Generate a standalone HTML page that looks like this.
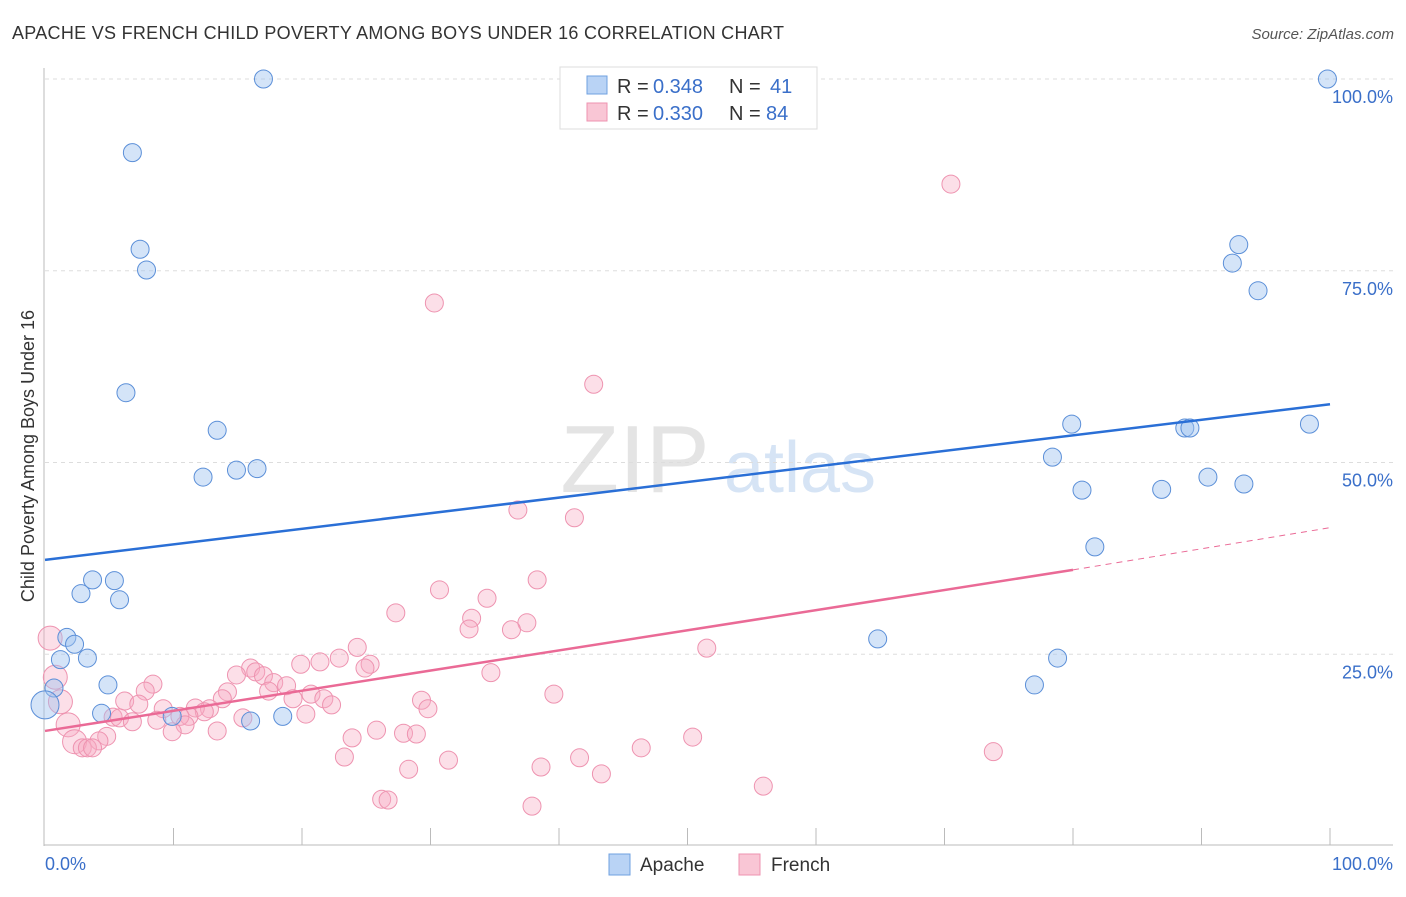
<!DOCTYPE html>
<html><head><meta charset="utf-8"><style>
body{margin:0;background:#fff;font-family:"Liberation Sans",sans-serif;}
svg text{font-family:"Liberation Sans",sans-serif;}
</style></head><body>
<svg id="c" width="1406" height="892">
<text x="12" y="39" font-size="18" fill="#333" textLength="772">APACHE VS FRENCH CHILD POVERTY AMONG BOYS UNDER 16 CORRELATION CHART</text>
<text x="1394" y="39" font-size="15" fill="#555" font-style="italic" text-anchor="end">Source: ZipAtlas.com</text>
<text x="635" y="492" font-size="96" fill="#e4e4e4" font-family="Liberation Serif" text-anchor="middle">ZIP</text>
<text x="800" y="492" font-size="72" fill="#d6e4f5" text-anchor="middle">atlas</text>
<text transform="translate(34,456) rotate(-90)" font-size="18" fill="#333" text-anchor="middle">Child Poverty Among Boys Under 16</text>
<g id="grid"></g><g id="pts"></g><g id="lines"></g>
<g>
<rect x="560" y="67" width="257" height="62" fill="#fff" stroke="#ddd"/>
<rect x="587" y="76" width="20" height="18" fill="#b9d3f5" stroke="#6fa0e0"/>
<rect x="587" y="103" width="20" height="18" fill="#f9c6d5" stroke="#ee93b0"/>
<text x="617" y="93" font-size="20" fill="#333">R =</text>
<text x="653" y="93" font-size="20" fill="#3a6fc9">0.348</text>
<text x="729" y="93" font-size="20" fill="#333">N =</text>
<text x="770" y="93" font-size="20" fill="#3a6fc9">41</text>
<text x="617" y="120" font-size="20" fill="#333">R =</text>
<text x="653" y="120" font-size="20" fill="#3a6fc9">0.330</text>
<text x="729" y="120" font-size="20" fill="#333">N =</text>
<text x="766" y="120" font-size="20" fill="#3a6fc9">84</text>
</g>
<g>
<rect x="609" y="854" width="21" height="21" fill="#b9d3f5" stroke="#6fa0e0"/>
<text x="640" y="871" font-size="19" fill="#333">Apache</text>
<rect x="739" y="854" width="21" height="21" fill="#f9c6d5" stroke="#ee93b0"/>
<text x="771" y="871" font-size="19" fill="#333">French</text>
</g>
</svg>
<script>
const yTicks=[100,75,50,25];
const yTickLabels=["100.0%","75.0%","50.0%","25.0%"];
const xTickLabels=["0.0%","100.0%"];
const apacheX=[17.0,6.8,7.4,7.9,6.3,13.4,12.3,14.9,16.5,3.7,5.4,2.8,5.8,1.7,2.3,1.2,3.3,4.9,0.7,0,4.4,9.9,16.0,18.5,64.8,99.8,92.9,92.4,94.4,79.9,78.4,80.7,81.7,86.9,88.7,89.1,90.5,93.3,98.4,78.8,77.0];
const apacheY=[100,90.4,77.8,75.1,59.1,54.2,48.1,49.0,49.2,34.7,34.6,32.9,32.1,27.2,26.3,24.3,24.5,21.0,20.6,18.4,17.3,16.9,16.3,16.9,27.0,100,78.4,76.0,72.4,55.0,50.7,46.4,39.0,46.5,54.5,54.5,48.1,47.2,55.0,24.5,21.0];
const apacheBig=[19];
const frenchX=[70.5,30.3,42.7,36.8,41.2,38.3,30.7,34.4,27.3,33.2,33.0,37.5,36.3,51.5,24.3,22.9,25.3,24.9,21.4,19.9,34.7,16.0,16.4,14.9,17.0,17.8,18.8,17.4,8.4,7.8,14.2,13.8,20.7,21.7,19.3,22.3,39.6,29.3,29.8,6.2,7.3,0.8,0.4,1.2,9.2,12.8,11.7,12.4,11.2,10.5,8.7,5.3,5.8,6.8,15.4,20.3,10.9,9.9,13.4,1.8,4.8,4.2,2.3,2.9,3.3,3.7,25.8,23.9,27.9,28.9,23.3,31.4,28.3,38.6,41.6,43.3,46.4,50.4,73.8,55.9,26.2,26.7,37.9];
const frenchY=[86.3,70.8,60.2,43.8,42.8,34.7,33.4,32.3,30.4,29.7,28.3,29.1,28.2,25.8,25.9,24.5,23.7,23.2,24.0,23.7,22.6,23.2,22.7,22.3,22.2,21.3,20.9,20.2,21.1,20.2,20.1,19.2,19.8,19.2,19.2,18.4,19.8,19.0,17.9,18.9,18.5,22.0,27.1,18.8,17.9,17.9,18.0,17.5,16.9,16.9,16.4,16.8,16.7,16.2,16.7,17.2,15.8,14.9,15.0,15.8,14.3,13.7,13.6,12.8,12.8,12.8,15.1,14.1,14.7,14.6,11.6,11.2,10.0,10.3,11.5,9.4,12.8,14.2,12.3,7.8,6.1,6.0,5.2];
const frenchBig=[41,42,43,59,62];
const apacheTrend=[37.3,57.6];
const frenchTrend=[15.0,36.0,41.5];
const NS="http://www.w3.org/2000/svg";
const X=v=>45+v*12.85, Y=v=>846-v*7.67;
function mk(t,a,p){const e=document.createElementNS(NS,t);for(const k in a)e.setAttribute(k,a[k]);p.appendChild(e);return e;}
const grid=document.getElementById('grid');
yTicks.forEach((t,i)=>{
 const l=mk('line',{x1:45,x2:1393,y1:Y(t),y2:Y(t),stroke:'#ddd','stroke-dasharray':'4,4'},grid);
 
 
 const tx=mk('text',{x:1393,y:Y(t)+24,'font-size':18,fill:'#3a6fc9','text-anchor':'end'},grid);
 tx.textContent=yTickLabels[i];
 
 
});
const ax=mk('line',{x1:44,x2:44,y1:68,y2:846,stroke:'#bbb'},grid);


const bx=mk('line',{x1:44,x2:1393,y1:845,y2:845,stroke:'#bbb'},grid);


for(let i=1;i<=10;i++){const t=mk('line',{x1:X(i*10),x2:X(i*10),y1:828,y2:845,stroke:'#bbb'},grid);
 
 }
[[0,'start',45],[1,'end',1393]].forEach(([i,a,x])=>{const t=mk('text',{x:x,y:870,'font-size':18,fill:'#3a6fc9','text-anchor':a},grid);t.textContent=xTickLabels[i];
 
 });
const pts=document.getElementById('pts');
frenchX.forEach((v,i)=>{const c=mk('circle',{cx:X(v),cy:Y(frenchY[i]),r:frenchBig.includes(i)?12:9,fill:'rgba(246,170,195,0.38)',stroke:'#ee93b0','stroke-width':1},pts);
 
 });
apacheX.forEach((v,i)=>{const c=mk('circle',{cx:X(v),cy:Y(apacheY[i]),r:apacheBig.includes(i)?14:9,fill:'rgba(160,196,240,0.45)',stroke:'#5b8fd8','stroke-width':1},pts);
 
 });
const lg=document.getElementById('lines');
const a=mk('line',{x1:X(0),y1:Y(apacheTrend[0]),x2:X(100),y2:Y(apacheTrend[1]),stroke:'#2a6fd6','stroke-width':2.5},lg);


const f=mk('line',{x1:X(0),y1:Y(frenchTrend[0]),x2:X(80),y2:Y(frenchTrend[1]),stroke:'#ea6a96','stroke-width':2.5},lg);


const fd=mk('line',{x1:X(80),y1:Y(frenchTrend[1]),x2:X(100),y2:Y(frenchTrend[2]),stroke:'#ea6a96','stroke-width':1,'stroke-dasharray':'6,5'},lg);


</script>
</body></html>
